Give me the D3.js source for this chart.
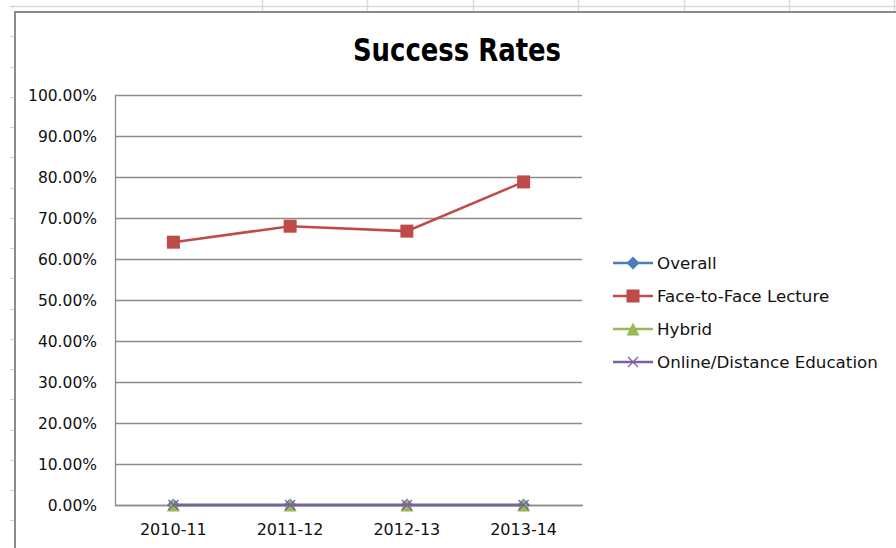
<!DOCTYPE html>
<html>
<head>
<meta charset="utf-8">
<script src="https://cdn.jsdelivr.net/npm/d3@7"></script>
<style>
  body { margin: 0; background: #fff; }
  svg { display: block; }
  .y-label { font-family: "DejaVu Sans", Verdana, sans-serif; font-size: 15.5px; fill: #111; }
  .x-label { font-family: "DejaVu Sans", Verdana, sans-serif; font-size: 16px; fill: #111; }
  .legend-label { font-family: "DejaVu Sans", Verdana, sans-serif; font-size: 16.7px; fill: #111; }
  .title { font-family: "DejaVu Sans", sans-serif; font-weight: bold; font-size: 32px; fill: #000; }
</style>
</head>
<body>
<div id="chart"></div>
<script>
// chart data
var categories = ['2010-11', '2011-12', '2012-13', '2013-14'];
var overall = [0, 0, 0, 0];
var faceToFace = [0.641, 0.680, 0.668, 0.788];
var hybrid = [0, 0, 0, 0];
var online = [0, 0, 0, 0];
var seriesNames = ['Overall', 'Face-to-Face Lecture', 'Hybrid', 'Online/Distance Education'];
var yTickValues = [0, 0.1, 0.2, 0.3, 0.4, 0.5, 0.6, 0.7, 0.8, 0.9, 1.0];

var W = 896, H = 548;
var plot = { left: 115, top: 95, right: 582, bottom: 505 };

var series = [
  { name: seriesNames[0], values: overall, color: '#4a7ebb', marker: 'diamond' },
  { name: seriesNames[1], values: faceToFace, color: '#be4b48', marker: 'square' },
  { name: seriesNames[2], values: hybrid, color: '#98b954', marker: 'triangle' },
  { name: seriesNames[3], values: online, color: '#7d60a0', marker: 'cross' }
];

var svg = d3.select('#chart').append('svg')
  .attr('width', W)
  .attr('height', H);

// spreadsheet cells behind the chart
var sheet = svg.append('g').attr('class', 'sheet');
sheet.append('line')
  .attr('x1', 10).attr('x2', W).attr('y1', 6.5).attr('y2', 6.5)
  .attr('stroke', '#dadada').attr('stroke-width', 1.5);
[262, 367, 473, 578, 684, 789, 894].forEach(function(x) {
  sheet.append('line')
    .attr('x1', x + 0.5).attr('x2', x + 0.5).attr('y1', 0).attr('y2', 12)
    .attr('stroke', '#dadada').attr('stroke-width', 1.5);
});
d3.range(0, 18).forEach(function(i) {
  var y = Math.round(6 + i * 30.25) + 0.5;
  sheet.append('line')
    .attr('x1', 10).attr('x2', 15).attr('y1', y).attr('y2', y)
    .attr('stroke', '#cfcfcf');
});

// chart border
svg.append('path')
  .attr('d', 'M15,' + H + 'V12H' + W)
  .attr('fill', 'none')
  .attr('stroke', '#8a8a8a')
  .attr('stroke-width', 2);

// title (squeezed a little to look like a condensed bold face)
svg.append('g')
  .attr('transform', 'translate(457,61) scale(0.81,1)')
  .append('text')
  .attr('class', 'title')
  .attr('text-anchor', 'middle')
  .text('Success Rates');

// scales
var xScale = d3.scalePoint().domain(categories).range([plot.left, plot.right]).padding(0.5);
var yScale = d3.scaleLinear().domain([0, 1]).range([plot.bottom, plot.top]);
var fmt = d3.format('.2%');

// gridlines
svg.append('g')
  .selectAll('line')
  .data(yTickValues)
  .enter().append('line')
  .attr('x1', plot.left).attr('x2', plot.right)
  .attr('y1', function(d) { return Math.round(yScale(d)) + 0.5; })
  .attr('y2', function(d) { return Math.round(yScale(d)) + 0.5; })
  .attr('stroke', '#8c8c8c')
  .attr('stroke-width', 1.3);

// y axis line
svg.append('line')
  .attr('x1', plot.left + 0.5).attr('x2', plot.left + 0.5)
  .attr('y1', plot.top).attr('y2', plot.bottom)
  .attr('stroke', '#8c8c8c').attr('stroke-width', 1.3);

// y labels
svg.append('g')
  .selectAll('text')
  .data(yTickValues)
  .enter().append('text')
  .attr('class', 'y-label')
  .attr('x', 97)
  .attr('y', function(d) { return yScale(d); })
  .attr('dy', '0.36em')
  .attr('text-anchor', 'end')
  .text(function(d) { return fmt(d); });

// x labels
svg.append('g')
  .selectAll('text')
  .data(categories)
  .enter().append('text')
  .attr('class', 'x-label')
  .attr('x', function(d) { return xScale(d); })
  .attr('y', 535)
  .attr('text-anchor', 'middle')
  .text(function(d) { return d; });

// markers
function drawMarker(g, type, color, cx, cy, s) {
  if (type === 'diamond') {
    g.append('path')
      .attr('d', 'M' + cx + ',' + (cy - s / 2) + 'L' + (cx + s / 2) + ',' + cy + 'L' + cx + ',' + (cy + s / 2) + 'L' + (cx - s / 2) + ',' + cy + 'Z')
      .attr('fill', color);
  } else if (type === 'square') {
    g.append('rect')
      .attr('x', cx - s / 2).attr('y', cy - s / 2)
      .attr('width', s).attr('height', s)
      .attr('fill', color);
  } else if (type === 'triangle') {
    g.append('path')
      .attr('d', 'M' + cx + ',' + (cy - s / 2) + 'L' + (cx + s / 2) + ',' + (cy + s / 2) + 'L' + (cx - s / 2) + ',' + (cy + s / 2) + 'Z')
      .attr('fill', color);
  } else {
    var h = s / 2;
    g.append('path')
      .attr('d', 'M' + (cx - h) + ',' + (cy - h) + 'L' + (cx + h) + ',' + (cy + h) + 'M' + (cx + h) + ',' + (cy - h) + 'L' + (cx - h) + ',' + (cy + h))
      .attr('stroke', color).attr('stroke-width', 1.3).attr('fill', 'none');
  }
}

// x axis line
svg.append('line')
  .attr('x1', plot.left).attr('x2', plot.right + 1)
  .attr('y1', plot.bottom + 0.5).attr('y2', plot.bottom + 0.5)
  .attr('stroke', '#8c8c8c').attr('stroke-width', 1.3);

var line = d3.line()
  .x(function(d, i) { return xScale(categories[i]); })
  .y(function(d) { return yScale(d); });

series.forEach(function(s) {
  var g = svg.append('g').attr('class', 'series');
  g.append('path')
    .datum(s.values)
    .attr('d', line)
    .attr('fill', 'none')
    .attr('stroke', s.color)
    .attr('stroke-width', 2.5);
  s.values.forEach(function(v, i) {
    drawMarker(g, s.marker, s.color, xScale(categories[i]), yScale(v), s.marker === 'cross' ? 10 : 13);
  });
});

// legend
var legend = svg.append('g').attr('class', 'legend');
series.forEach(function(s, i) {
  var ly = 263 + i * 33;
  legend.append('line')
    .attr('x1', 613).attr('x2', 653)
    .attr('y1', ly).attr('y2', ly)
    .attr('stroke', s.color).attr('stroke-width', 2.5);
  drawMarker(legend, s.marker, s.color, 633, ly, s.marker === 'cross' ? 10 : 13);
  legend.append('text')
    .attr('class', 'legend-label')
    .attr('x', 657)
    .attr('y', ly)
    .attr('dy', '0.36em')
    .text(s.name);
});
</script>
</body>
</html>
